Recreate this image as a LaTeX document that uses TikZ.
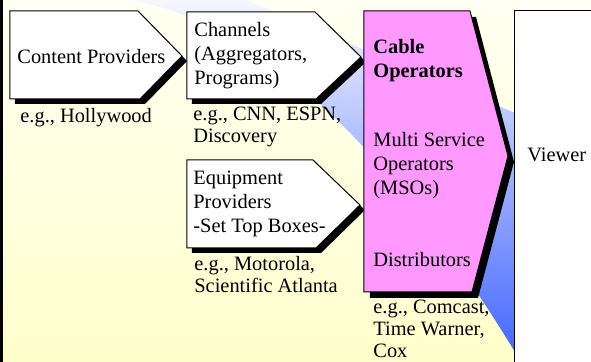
\documentclass[tikz,border=0pt]{standalone}
\usepackage{fontspec}
\setmainfont{Liberation Serif}
\definecolor{bg_top}{RGB}{255,255,243}
\definecolor{bg_bottom}{RGB}{255,255,204}
\definecolor{wedge_top}{RGB}{246,246,255}
\definecolor{wedge_mid}{RGB}{200,210,255}
\definecolor{wedge_bottom}{RGB}{70,105,255}
\definecolor{cable_pink}{RGB}{255,153,255}

\begin{document}
\begin{tikzpicture}[x=0.5pt,y=-0.5pt,line join=miter]
    \tikzstyle{box}=[draw=black, line width=0.5pt, fill=white, preaction={fill=black, transform canvas={shift={(2.5pt,-2.5pt)}}}]
    \tikzstyle{cab}=[draw=black, line width=0.5pt, fill=cable_pink, preaction={fill=black, transform canvas={shift={(3pt,-3pt)}}}]
    \tikzstyle{txt}=[anchor=north west, inner sep=0pt, align=left, font=\fontsize{10.2}{12}\selectfont, execute at begin node=\strut]
    \tikzstyle{eg}=[style=txt, font=\fontsize{10.2}{11}\selectfont]

    \useasboundingbox (0,0) rectangle (591,362);
    % background and blue wedge
    \shade[top color=bg_top, bottom color=bg_bottom] (0,0) rectangle (591,362);
    \shade[top color=wedge_top, middle color=wedge_mid, bottom color=wedge_bottom]
      (133,0) .. controls (258,25) and (387,142) .. (515,352) -- (515,113) -- (246,0) -- cycle;
    \fill[black] (0,0) rectangle (2.5,362);

    % chevrons
    \draw[box] (10,11) -- (138,11) -- (182,56) -- (140,99) -- (10,99) -- cycle;
    \draw[box] (187,12) -- (315,12) -- (361,57) -- (316,99) -- (187,99) -- cycle;
    \draw[box] (187,160) -- (313,160) -- (360,205) -- (316,248) -- (187,248) -- cycle;
    \draw[cab] (364,11) -- (470,11) -- (508,156) -- (472,292) -- (364,292) -- cycle;
    \draw[line width=0.5pt, fill=white] (515,11) rectangle (600,370);

    \node[txt] (cp)     at (17,46.2)   {Content Providers};
    \node[txt] (chan)   at (194,22.2)  {Channels\\(Aggregators,\\Programs)};
    \node[txt] (equip)  at (193,170.2) {Equipment\\Providers\\-Set Top Boxes-};
    \node[txt] (cable)  at (373,39.2)  {\bfseries Cable\\\bfseries Operators};
    \node[txt] (mso)    at (373,132.2) {Multi Service\\Operators\\(MSOs)};
    \node[txt] (dist)   at (373,249.2) {Distributors};
    \node[txt] (viewer) at (527,144.2) {Viewer};

    \node[eg] (cp_eg)    at (20,106.6)  {e.g., Hollywood};
    \node[eg] (chan_eg)  at (193,106.6) {e.g., CNN, ESPN,\\Discovery};
    \node[eg] (equip_eg) at (194,255.6) {e.g., Motorola,\\Scientific Atlanta};
    \node[eg] (cable_eg) at (373,299.6) {e.g., Comcast,\\Time Warner,\\Cox};
\end{tikzpicture}
\end{document}
